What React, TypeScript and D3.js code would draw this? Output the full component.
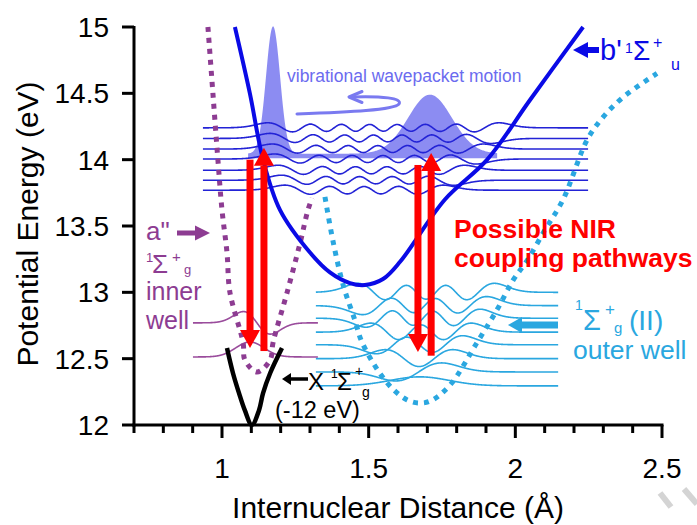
import React from 'react';
import * as d3 from 'd3';

const WIDTH = 697;
const HEIGHT = 525;
const FONT = "'Liberation Sans', Arial, Helvetica, sans-serif";

// Axis ticks
const energyTicks = [12, 12.5, 13, 13.5, 14, 14.5, 15];
const energyTickLabels = ['12', '12.5', '13', '13.5', '14', '14.5', '15'];
const distanceMajorTicks = [1, 1.5, 2, 2.5];
const distanceTickLabels = ['1', '1.5', '2', '2.5'];
const distanceMinorTicks = [0.7, 0.8, 0.9, 1.1, 1.2, 1.3, 1.4, 1.6, 1.7, 1.8, 1.9, 2.1, 2.2, 2.3, 2.4];

// Potential curves: internuclear distance (Å) and energy (eV)
const groundR = [1.017, 1.0375, 1.058, 1.078, 1.102, 1.126, 1.14, 1.164, 1.2045];
const groundE = [12.58, 12.39, 12.24, 12.11, 12.0, 12.11, 12.24, 12.39, 12.58];

const innerR = [0.952, 0.969, 0.986, 1.0, 1.017, 1.027, 1.072, 1.078, 1.119, 1.164, 1.174, 1.222, 1.266, 1.293, 1.307];
const innerE = [15.0, 14.5, 14.0, 13.62, 13.3, 13.0, 12.62, 12.49, 12.4, 12.49, 12.62, 13.0, 13.37, 13.62, 13.71];

const bPrimeR = [1.044, 1.095, 1.14, 1.198, 1.3, 1.368, 1.436, 1.487, 1.549, 1.607, 1.76, 1.904, 2.05, 2.231];
const bPrimeE = [15.0, 14.5, 14.0, 13.62, 13.3, 13.15, 13.07, 13.055, 13.1, 13.23, 13.7, 14.0, 14.45, 15.0];

const outerR = [1.351, 1.378, 1.413, 1.453, 1.477, 1.535, 1.583, 1.63, 1.668, 1.71, 1.777, 1.869, 1.938, 1.992, 2.04, 2.101, 2.163, 2.245, 2.299, 2.367, 2.483];
const outerE = [13.72, 13.39, 13.055, 12.79, 12.625, 12.4, 12.27, 12.19, 12.166, 12.18, 12.3, 12.62, 12.87, 13.09, 13.24, 13.47, 13.7, 14.15, 14.32, 14.47, 14.65];

// Vibrational levels
const bPrimeLevels = [14.24, 14.16, 14.08, 14.005, 13.92, 13.845, 13.77];
const bPrimeQuanta = [14, 13, 12, 11, 10, 9, 8];
const bPrimeSpan = [0.935, 2.248];

const outerLevels = [13.0, 12.9, 12.805, 12.7, 12.605, 12.5, 12.4, 12.295];
const outerQuanta = [6, 5, 5, 4, 3, 2, 1, 0];
const outerSpan = [1.32, 2.146];

const innerLevels = [12.77, 12.513];
const innerQuanta = [1, 0];
const innerCentres = [1.119, 1.095];
const innerWidths = [0.046, 0.048];
const innerSpan = [0.901, 1.327];

// Wavepackets travelling on b'
const packetCentres = [1.174, 1.709];
const packetHeights = [0.96, 0.445];
const packetWidths = [0.024, 0.075];
const packetBase = 14.01;
const packetBand = 0.035;
const packetSpan = [1.089, 1.938];

// NIR coupling arrows: distance, tail energy, tip energy
const arrowR = [1.0955, 1.143, 1.668, 1.713];
const arrowFrom = [14.0, 12.565, 13.96, 12.53];
const arrowTo = [12.58, 14.09, 12.55, 14.05];

const x = d3.scaleLinear().domain([0.7, 2.5]).range([134, 662]);
const y = d3.scaleLinear().domain([12, 15]).range([425, 27]);

const RED = '#ff0000';
const BLUE = '#0a0ae6';
const WAVE_BLUE = '#2323d6';
const PURPLE = '#8d3c92';
const WAVE_PURPLE = '#9a4c9c';
const CYAN = '#2aa7e0';
const PACKET = '#7878f0';

function curvePath(R: number[], E: number[]): string {
  const gen = d3
    .line<number>()
    .x((_, i) => x(R[i]))
    .y((_, i) => y(E[i]))
    .curve(d3.curveCatmullRom.alpha(0.5));
  return gen(R) || '';
}

// Normalised harmonic-oscillator eigenfunction
function hermite(v: number, xi: number): number {
  let p0 = Math.pow(Math.PI, -0.25) * Math.exp(-xi * xi / 2);
  if (v === 0) return p0;
  let p1 = Math.SQRT2 * xi * p0;
  for (let n = 1; n < v; n++) {
    const p2 = Math.sqrt(2 / (n + 1)) * xi * p1 - Math.sqrt(n / (n + 1)) * p0;
    p0 = p1;
    p1 = p2;
  }
  return p1;
}

// Where a level meets one wall of a potential curve
function crossing(R: number[], E: number[], level: number, side: 'left' | 'right'): number {
  const m = E.indexOf(Math.min(...E));
  if (side === 'left') {
    for (let i = 0; i < m; i++) {
      if (E[i] >= level && E[i + 1] <= level) {
        const t = (E[i] - level) / (E[i] - E[i + 1]);
        return R[i] + t * (R[i + 1] - R[i]);
      }
    }
    return R[m];
  }
  for (let i = m; i < E.length - 1; i++) {
    if (E[i] <= level && E[i + 1] >= level) {
      const t = (level - E[i]) / (E[i + 1] - E[i]);
      return R[i] + t * (R[i + 1] - R[i]);
    }
  }
  return R[m];
}

function wavePath(level: number, v: number, centre: number, scale: number, amp: number, span: number[], sign: number): string {
  const n = 600;
  const samples: [number, number][] = [];
  let maxAbs = 0;
  for (let i = 0; i <= n; i++) {
    const r = span[0] + ((span[1] - span[0]) * i) / n;
    const psi = hermite(v, (r - centre) / scale);
    samples.push([r, psi]);
    maxAbs = Math.max(maxAbs, Math.abs(psi));
  }
  const gen = d3
    .line<[number, number]>()
    .x((d) => x(d[0]))
    .y((d) => y(level + (sign * amp * d[1]) / maxAbs));
  return gen(samples) || '';
}

function wellWave(R: number[], E: number[], level: number, v: number, amp: number, span: number[], sign: number): string {
  const rl = crossing(R, E, level, 'left');
  const rr = crossing(R, E, level, 'right');
  const centre = (rl + rr) / 2;
  const scale = (rr - rl) / 2 / Math.sqrt(2 * v + 1);
  return wavePath(level, v, centre, scale, amp, span, sign);
}

function packetPath(): string {
  const n = 400;
  const rs: number[] = [];
  for (let i = 0; i <= n; i++) rs.push(packetSpan[0] + ((packetSpan[1] - packetSpan[0]) * i) / n);
  const top = (r: number) =>
    packetBase +
    packetBand +
    packetCentres.reduce(
      (acc, c, k) => acc + packetHeights[k] * Math.exp(-((r - c) ** 2) / (2 * packetWidths[k] ** 2)),
      0
    );
  const gen = d3
    .area<number>()
    .x((r) => x(r))
    .y0(() => y(packetBase))
    .y1((r) => y(top(r)));
  return gen(rs) || '';
}

function VerticalArrow({ r, from, to }: { r: number; from: number; to: number }) {
  const px = x(r);
  const y0 = y(from);
  const y1 = y(to);
  const dir = y1 > y0 ? 1 : -1;
  const headLen = 18;
  const headHalf = 10;
  const shaftHalf = 3.5;
  const base = y1 - dir * headLen;
  return (
    <g fill={RED}>
      <rect x={px - shaftHalf} y={Math.min(y0, base)} width={shaftHalf * 2} height={Math.abs(base - y0) + 1} />
      <polygon points={`${px - headHalf},${base} ${px + headHalf},${base} ${px},${y1}`} />
    </g>
  );
}

function HArrow({ x0, x1, yy, color, shaft, headLen, headHalf }: { x0: number; x1: number; yy: number; color: string; shaft: number; headLen: number; headHalf: number }) {
  const dir = x1 > x0 ? 1 : -1;
  const base = x1 - dir * headLen;
  return (
    <g fill={color}>
      <rect x={Math.min(x0, base)} y={yy - shaft / 2} width={Math.abs(base - x0) + 1} height={shaft} />
      <polygon points={`${base},${yy - headHalf} ${base},${yy + headHalf} ${x1},${yy}`} />
    </g>
  );
}

export default function App() {
  const packet = packetPath();

  return (
    <svg
      width={WIDTH}
      height={HEIGHT}
      viewBox={`0 0 ${WIDTH} ${HEIGHT}`}
      style={{ position: 'absolute', left: 0, top: 0, display: 'block', background: '#fff' }}
      fontFamily={FONT}
    >
      <rect width={WIDTH} height={HEIGHT} fill="#fff" />

      {/* wavepacket density */}
      <path d={packet} fill={PACKET} fillOpacity={0.85} />

      {/* b' vibrational wavefunctions */}
      {bPrimeLevels.map((lv, i) => (
        <path
          key={`b${i}`}
          d={wellWave(bPrimeR, bPrimeE, lv, bPrimeQuanta[i], 0.038, bPrimeSpan, i % 2 === 0 ? 1 : -1)}
          fill="none"
          stroke={WAVE_BLUE}
          strokeWidth={1.6}
        />
      ))}

      {/* outer-well vibrational wavefunctions */}
      {outerLevels.map((lv, i) => (
        <path
          key={`o${i}`}
          d={wellWave(outerR, outerE, lv, outerQuanta[i], 0.068, outerSpan, 1)}
          fill="none"
          stroke={CYAN}
          strokeWidth={1.6}
        />
      ))}

      {/* inner-well vibrational wavefunctions */}
      {innerLevels.map((lv, i) => (
        <path
          key={`i${i}`}
          d={wavePath(lv, innerQuanta[i], innerCentres[i], innerWidths[i], i === 0 ? 0.085 : 0.113, innerSpan, i === 0 ? -1 : 1)}
          fill="none"
          stroke={WAVE_PURPLE}
          strokeWidth={1.6}
        />
      ))}

      {/* axes */}
      <g stroke="#000" strokeWidth={3} fill="none">
        <line x1={x(0.7)} x2={x(0.7)} y1={y(15) - 1} y2={y(12) + 1.5} />
        <line x1={x(0.7) - 1.5} x2={x(2.5) + 1.5} y1={y(12)} y2={y(12)} />
        {energyTicks.map((t) => (
          <line key={`yt${t}`} x1={x(0.7) - 12} x2={x(0.7)} y1={y(t)} y2={y(t)} />
        ))}
        {distanceMajorTicks.map((t) => (
          <line key={`xt${t}`} x1={x(t)} x2={x(t)} y1={y(12)} y2={y(12) + 13} />
        ))}
        {distanceMinorTicks.map((t) => (
          <line key={`xm${t}`} x1={x(t)} x2={x(t)} y1={y(12)} y2={y(12) + 8} />
        ))}
      </g>
      <g fontSize={28} fill="#000">
        {energyTicks.map((t, i) => (
          <text key={`yl${t}`} x={x(0.7) - 25} y={y(t) + 10} textAnchor="end">
            {energyTickLabels[i]}
          </text>
        ))}
        {distanceMajorTicks.map((t, i) => (
          <text key={`xl${t}`} x={x(t)} y={478} textAnchor="middle">
            {distanceTickLabels[i]}
          </text>
        ))}
      </g>
      <text x={398} y={518} fontSize={30} textAnchor="middle" fill="#000">
        Internuclear Distance (Å)
      </text>
      <text transform="translate(38,224) rotate(-90)" fontSize={30} textAnchor="middle" fill="#000">
        Potential Energy (eV)
      </text>

      {/* potential energy curves */}
      <path d={curvePath(groundR, groundE)} fill="none" stroke="#000" strokeWidth={4.5} strokeLinejoin="round" />
      <path d={curvePath(innerR, innerE)} fill="none" stroke={PURPLE} strokeWidth={5} strokeDasharray="5 6" />
      <path d={curvePath(outerR, outerE)} fill="none" stroke={CYAN} strokeWidth={5} strokeDasharray="5 6" />
      <path d={curvePath(bPrimeR, bPrimeE)} fill="none" stroke={BLUE} strokeWidth={4} />

      {/* NIR coupling arrows */}
      {arrowR.map((r, i) => (
        <VerticalArrow key={`a${i}`} r={r} from={arrowFrom[i]} to={arrowTo[i]} />
      ))}

      {/* wavepacket motion annotation */}
      <text x={287} y={82} fontSize={17.5} fill="#6b6bef">
        vibrational wavepacket motion
      </text>
      <path
        d="M297,114 C350,112 394,110 399,104 C403,98 382,96 351,97"
        fill="none"
        stroke="#7a7af0"
        strokeWidth={3}
        strokeLinecap="round"
      />
      <polyline points="362,91.5 349,97 362,102.5" fill="none" stroke="#7a7af0" strokeWidth={3} strokeLinecap="round" strokeLinejoin="round" />

      {/* b' label */}
      <HArrow x0={598} x1={573} yy={50} color={BLUE} shaft={6} headLen={15} headHalf={8} />
      <g fill={BLUE}>
        <text x={600} y={60} fontSize={29}>b'</text>
        <text x={625} y={53} fontSize={14}>1</text>
        <text x={633} y={60} fontSize={28}>Σ</text>
        <text x={653} y={48} fontSize={16}>+</text>
        <text x={671} y={70} fontSize={16}>u</text>
      </g>

      {/* a'' inner well label */}
      <HArrow x0={177} x1={210} yy={233} color={PURPLE} shaft={5} headLen={15} headHalf={7.5} />
      <g fill={PURPLE}>
        <text x={146} y={240} fontSize={26}>a"</text>
        <text x={146} y={262} fontSize={13}>1</text>
        <text x={152} y={273} fontSize={26}>Σ</text>
        <text x={172} y={262} fontSize={15}>+</text>
        <text x={184} y={274} fontSize={13}>g</text>
        <text x={146} y={300} fontSize={25}>inner</text>
        <text x={146} y={329} fontSize={25}>well</text>
      </g>
      <line x1={194} x2={x(innerSpan[0]) + 1} y1={y(innerLevels[0])} y2={y(innerLevels[0])} stroke={WAVE_PURPLE} strokeWidth={1.6} />

      {/* ground state label */}
      <HArrow x0={307} x1={282} yy={379} color="#000" shaft={3.5} headLen={9} headHalf={6} />
      <g fill="#000">
        <text x={308} y={390} fontSize={24}>X</text>
        <text x={331} y={378} fontSize={12}>1</text>
        <text x={337} y={390} fontSize={24}>Σ</text>
        <text x={355} y={376} fontSize={14}>+</text>
        <text x={362} y={397} fontSize={14}>g</text>
        <text x={275} y={418} fontSize={23.5}>(-12 eV)</text>
      </g>

      {/* outer well label */}
      <HArrow x0={557} x1={508} yy={325} color={CYAN} shaft={7} headLen={14} headHalf={8} />
      <g fill={CYAN}>
        <text x={575} y={310} fontSize={14}>1</text>
        <text x={583} y={330} fontSize={29}>Σ</text>
        <text x={605} y={315} fontSize={17}>+</text>
        <text x={614} y={333} fontSize={15}>g</text>
        <text x={629} y={330} fontSize={28}>(II)</text>
        <text x={573} y={359} fontSize={26.5}>outer well</text>
      </g>

      {/* coupling caption */}
      <g fill={RED} fontWeight="bold" fontSize={26.5}>
        <text x={454} y={238}>Possible NIR</text>
        <text x={454} y={267}>coupling pathways</text>
      </g>

      {/* faint watermark fragment */}
      <g stroke="#d4d4d4" strokeWidth={6} strokeLinecap="butt">
        <line x1={660} y1={493} x2={671} y2={507} />
        <line x1={684} y1={489} x2={697} y2={504} />
      </g>
    </svg>
  );
}
